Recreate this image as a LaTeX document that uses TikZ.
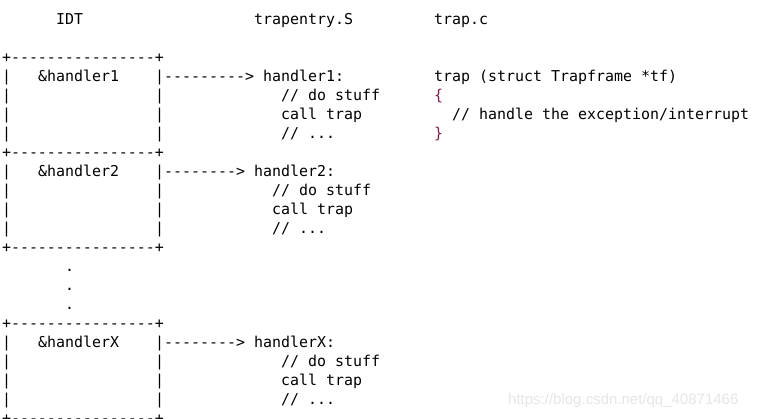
\documentclass[tikz,border=0pt]{standalone}
\usepackage{fontspec}
\setmainfont{Liberation Sans}
\setmonofont{DejaVu Sans Mono}
\definecolor{bracecol}{HTML}{7D1F4A}
\definecolor{wmgray}{HTML}{E6E6E6}

\begin{document}
\begin{tikzpicture}[
    x=1pt, y=-1pt,
    code/.style={anchor=base west, inner sep=0pt, outer sep=0pt, font=\ttfamily\fontsize{14.95}{19}\selectfont},
    brace/.style={code, text=bracecol},
    wmark/.style={anchor=base west, inner sep=0pt, font=\fontsize{15}{18}\selectfont, text=wmgray}
    ]
    \path[fill=white, use as bounding box] (0,0) rectangle (760,418);
    \clip (0,0) rectangle (760,418);

    % column headers
    \node[code] (idt) at (56,24) {IDT};
    \node[code] (entry) at (254,24) {trapentry.S};
    \node[code] (trapc) at (434,24) {trap.c};

    % IDT slots
    \foreach \r/\name in {2/top1, 7/sep12, 12/bot2, 16/top3, 21/bot3}
        \node[code] (\name) at (2,{24+19*\r}) {+----------------+};
    \foreach \r in {3,4,5,6,8,9,10,11,17,18,19,20} {
        \node[code] (lbar\r) at (2,{24+19*\r}) {|};
        \node[code] (rbar\r) at (155,{24+19*\r}) {|};
    }
    \node[code] (slot1) at (38,81) {\&handler1};
    \node[code] (slot2) at (38,176) {\&handler2};
    \node[code] (slotX) at (38,347) {\&handlerX};
    \foreach \r/\name in {13/dota, 14/dotb, 15/dotc}
        \node[code] (\name) at (65,{24+19*\r}) {.};

    % entries in trapentry.S
    \node[code] (arr1) at (164,81) {--------->};
    \node[code] (h1) at (263,81) {handler1:};
    \node[code] (h1a) at (281,100) {// do stuff};
    \node[code] (h1b) at (281,119) {call trap};
    \node[code] (h1c) at (281,138) {// ...};

    \node[code] (arr2) at (164,176) {-------->};
    \node[code] (h2) at (254,176) {handler2:};
    \node[code] (h2a) at (272,195) {// do stuff};
    \node[code] (h2b) at (272,214) {call trap};
    \node[code] (h2c) at (272,233) {// ...};

    \node[code] (arrX) at (164,347) {-------->};
    \node[code] (hX) at (254,347) {handlerX:};
    \node[code] (hXa) at (281,366) {// do stuff};
    \node[code] (hXb) at (281,385) {call trap};
    \node[code] (hXc) at (281,404) {// ...};

    % trap.c
    \node[code] (sig) at (434,81) {trap (struct Trapframe *tf)};
    \node[brace] (lbr) at (434,100) {\{};
    \node[code] (body) at (452,119) {// handle the exception/interrupt};
    \node[brace] (rbr) at (434,138) {\}};

    \node[wmark] (wm) at (508,404) {https://blog.csdn.net/qq\_40871466};
\end{tikzpicture}
\end{document}
